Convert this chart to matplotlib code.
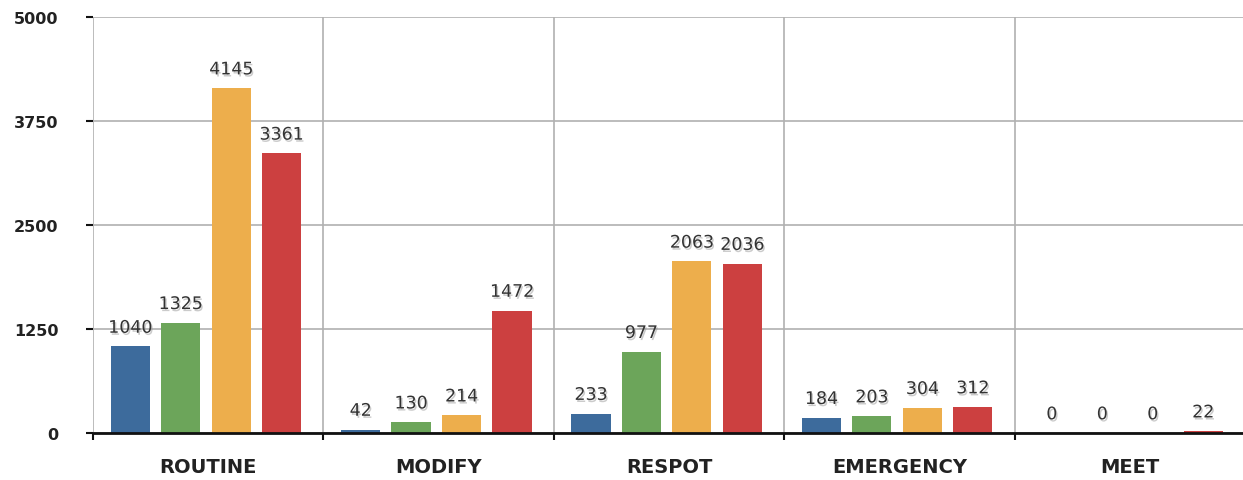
import matplotlib
matplotlib.use("Agg")
import matplotlib.pyplot as plt
import matplotlib.patheffects as pe
import numpy as np

categories = ["ROUTINE", "MODIFY", "RESPOT", "EMERGENCY", "MEET"]
series_a = [1040, 42, 233, 184, 0]
series_b = [1325, 130, 977, 203, 0]
series_c = [4145, 214, 2063, 304, 0]
series_d = [3361, 1472, 2036, 312, 22]
y_ticks = [0, 1250, 2500, 3750, 5000]

colors = ["#3d6b9c", "#6ca55a", "#edae4c", "#cc4040"]
series = [series_a, series_b, series_c, series_d]

fig = plt.figure(figsize=(12.43, 4.81), dpi=100)
ax = fig.add_axes([0.0748, 0.0977, 0.9268, 0.8649])

x = np.arange(len(categories))
width = 0.17
step = 0.219
offsets = [-1.5, -0.5, 0.5, 1.5]
for s, c, o in zip(series, colors, offsets):
    bars = ax.bar(x + o * step - 0.01, s, width=width, color=c, zorder=3)
    for b, v in zip(bars, s):
        t = ax.annotate(str(v), (b.get_x() + b.get_width() / 2, v),
                        xytext=(0, 7), textcoords="offset points",
                        ha="center", va="bottom", fontsize=12.5, color="#333333",
                        zorder=5)
        t.set_path_effects([pe.SimplePatchShadow(offset=(1, -1.5), shadow_rgbFace="#999999", alpha=0.5),
                            pe.Normal()])

ax.set_xlim(-0.5, len(categories) - 0.5)
ax.set_ylim(0, 5000)
ax.set_yticks(y_ticks)
ax.set_yticklabels([str(v) for v in y_ticks], fontsize=11.5, fontweight="bold", color="#222222")
ax.set_xticks(x)
ax.set_xticklabels(categories, fontsize=14, fontweight="bold", color="#222222")
ax.tick_params(axis="x", length=0, pad=17)
ax.tick_params(axis="y", length=5, width=1.5, color="#111111", pad=20)

ax.set_xticks(np.arange(-0.5, len(categories)), minor=True)
ax.tick_params(axis="x", which="minor", length=5, width=1.5, color="#111111")
ax.grid(axis="y", which="major", color="#b0b0b0", linewidth=1.2, zorder=0)
ax.grid(axis="x", which="minor", color="#b0b0b0", linewidth=1.2, zorder=0)

for sp in ["top", "right", "left"]:
    ax.spines[sp].set_visible(False)
ax.spines["bottom"].set_color("#111111")
ax.spines["bottom"].set_linewidth(2)
ax.spines["bottom"].set_zorder(4)

fig.savefig("out.png", dpi=100)
